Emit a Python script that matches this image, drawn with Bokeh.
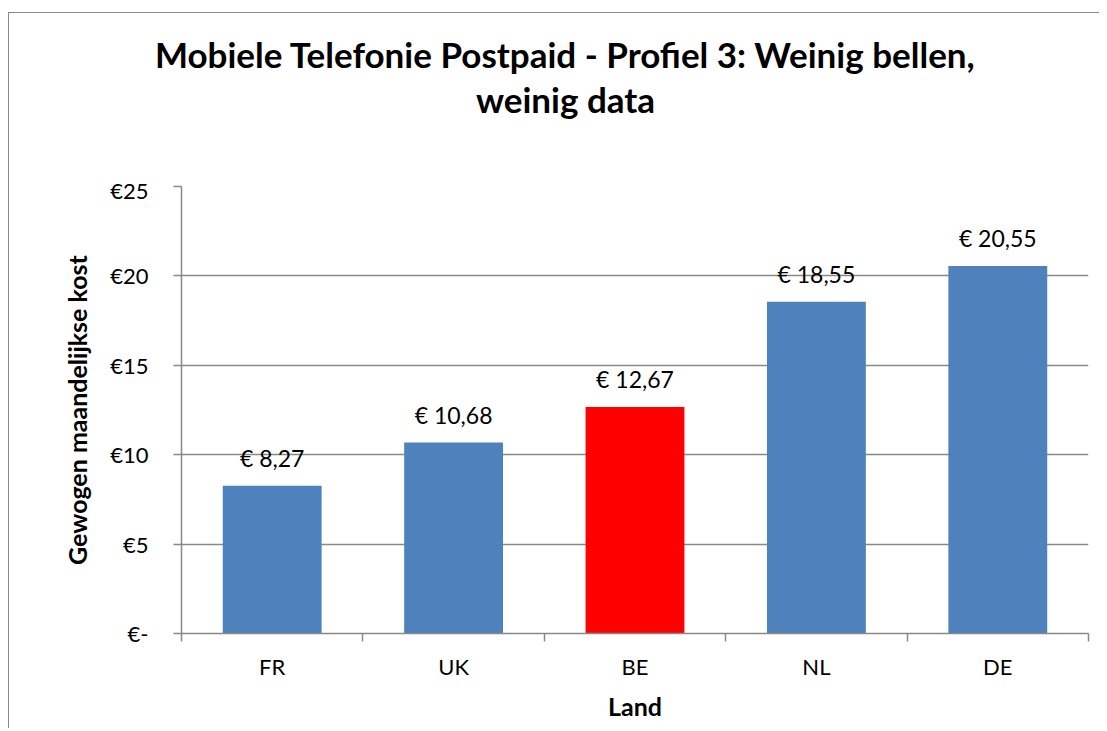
from bokeh.plotting import figure
from bokeh.models import ColumnDataSource, FixedTicker, LabelSet, Range1d
from bokeh.core.properties import value
from bokeh.embed import file_html
from bokeh.resources import INLINE

# ---- data ----
countries = ["FR", "UK", "BE", "NL", "DE"]
costs = [8.27, 10.68, 12.67, 18.55, 20.55]
bar_colors = ["#4F81BD", "#4F81BD", "#FF0000", "#4F81BD", "#4F81BD"]
value_labels = ["€ 8,27", "€ 10,68", "€ 12,67", "€ 18,55", "€ 20,55"]
y_ticks = [0, 5, 10, 15, 20, 25]
y_tick_labels = ["€-", "€5", "€10", "€15", "€20", "€25"]
title_lines = ["Mobiele Telefonie Postpaid - Profiel 3: Weinig bellen,", "weinig data"]
x_title = "Land"
y_title = "Gewogen maandelijkse kost"

FONT = "Lato"
GRAY = "#898989"
W = 1090
TITLE_H = 163

# ---- title strip (its own small figure, pixel coordinates) ----
t = figure(frame_width=W, frame_height=TITLE_H, x_range=Range1d(0, W), y_range=Range1d(TITLE_H, 0),
           x_axis_type=None, y_axis_type=None, output_backend="svg", toolbar_location=None,
           min_border=0, min_border_left=0, min_border_right=0, min_border_top=0,
           min_border_bottom=0, title=None)
t.outline_line_color = None
t.grid.visible = False
t.text(x=[556, 556], y=[40, 85], text=title_lines, text_align="center",
       text_baseline="alphabetic", text_font=value(FONT), text_font_style="bold",
       text_font_size="35px", text_color="black")
t.styles = {"border-top": "1px solid " + GRAY, "border-left": "1px solid " + GRAY,
            "position": "relative", "top": "12px", "left": "8px"}

# ---- bar chart ----
positions = [i + 0.5 for i in range(len(countries))]
boundaries = list(range(len(countries) + 1))
src = ColumnDataSource(dict(x=positions, top=costs, color=bar_colors, label=value_labels))

p = figure(frame_width=907, frame_height=447,
           x_range=Range1d(0, len(countries)), y_range=Range1d(0, 25),
           output_backend="svg", toolbar_location=None,
           min_border_left=172, min_border_top=10, min_border_right=11, min_border_bottom=95)
p.outline_line_color = None
p.background_fill_color = "white"
p.border_fill_color = "white"
p.styles = {"border-left": "1px solid " + GRAY,
            "position": "relative", "top": "12px", "left": "8px"}

p.vbar(x="x", top="top", bottom=0, width=0.545, color="color", line_color=None, source=src)

# y axis
p.yaxis.ticker = FixedTicker(ticks=y_ticks)
p.yaxis.major_label_overrides = dict(zip(y_ticks, y_tick_labels))
p.yaxis.major_tick_out = 8
p.yaxis.major_tick_in = 0
p.yaxis.minor_tick_out = 0
p.yaxis.minor_tick_in = 0
p.yaxis.axis_line_color = GRAY
p.yaxis.axis_line_width = 1.5
p.yaxis.major_tick_line_color = GRAY
p.yaxis.major_tick_line_width = 1.5
p.yaxis.major_label_standoff = 25
p.yaxis.major_label_text_font = FONT
p.yaxis.major_label_text_font_size = "22px"
p.yaxis.major_label_text_color = "black"
p.yaxis.axis_label = y_title
p.yaxis.axis_label_text_font = FONT
p.yaxis.axis_label_text_font_style = "bold"
p.yaxis.axis_label_text_font_size = "25px"
p.yaxis.axis_label_text_color = "black"
p.yaxis.axis_label_standoff = 15

# x axis
p.xaxis.ticker = FixedTicker(ticks=positions, minor_ticks=boundaries)
p.xaxis.major_label_overrides = dict(zip(positions, countries))
p.xaxis.major_tick_out = 0
p.xaxis.major_tick_in = 0
p.xaxis.minor_tick_out = 8
p.xaxis.minor_tick_in = 0
p.xaxis.minor_tick_line_color = GRAY
p.xaxis.minor_tick_line_width = 1.5
p.xaxis.axis_line_color = GRAY
p.xaxis.axis_line_width = 1.5
p.xaxis.major_label_standoff = 11
p.xaxis.major_label_text_font = FONT
p.xaxis.major_label_text_font_size = "22px"
p.xaxis.major_label_text_color = "black"
p.xaxis.axis_label = x_title
p.xaxis.axis_label_text_font = FONT
p.xaxis.axis_label_text_font_style = "bold"
p.xaxis.axis_label_text_font_size = "25px"
p.xaxis.axis_label_text_color = "black"
p.xaxis.axis_label_standoff = 8

p.xgrid.visible = False
p.ygrid.grid_line_color = GRAY
p.ygrid.grid_line_width = 1.5

labels = LabelSet(x="x", y="top", text="label", source=src, text_align="center",
                  text_baseline="alphabetic", y_offset=19,
                  text_font=value(FONT), text_font_size="23px", text_color="black")
p.add_layout(labels)

open("out.html", "w").write(file_html([t, p], INLINE))
